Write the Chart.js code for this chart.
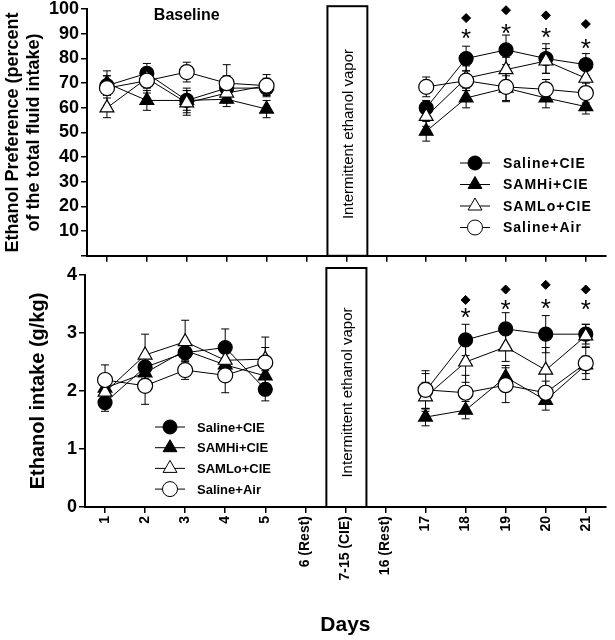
<!DOCTYPE html>
<html>
<head>
<meta charset="utf-8">
<script src="https://cdn.jsdelivr.net/npm/chart.js@4.4.1/dist/chart.umd.min.js"></script>
<style>
  html, body { margin: 0; padding: 0; background: #fff; }
  #wrap { position: relative; width: 615px; height: 640px; overflow: hidden; }
  #wrap canvas { position: absolute; left: 0; }
  #topChart { top: 0; }
  #bottomChart { top: 260px; }
</style>
</head>
<body>
<div id="wrap">
  <canvas id="topChart" width="615" height="265"></canvas>
  <canvas id="bottomChart" width="615" height="380"></canvas>
</div>
<script>
// shared x categories
const days = ['1', '2', '3', '4', '5', '6 (Rest)', '7-15 (CIE)', '16 (Rest)', '17', '18', '19', '20', '21'];
const seriesNames = ['Saline+CIE', 'SAMHi+CIE', 'SAMLo+CIE', 'Saline+Air'];

// top panel: ethanol preference (%)
const prefSalineCIE = [69, 74, 63, 68, 68, null, null, null, 60, 80, 83.5, 80, 77.5];
const prefSAMHi     = [70, 63, 63, 63.5, 59.5, null, null, null, 50.5, 64, 68, 64, 60.5];
const prefSAMLo     = [60, 72, 62, 66, 69, null, null, null, 56.5, 72, 75.5, 79, 72];
const prefSalineAir = [68, 71, 74.5, 70, 69, null, null, null, 68.5, 71, 68.5, 67.5, 66];
const prefErrSalineCIE = [4, 4, 5, 5, 3, null, null, null, 3, 5, 6, 6, 4.5];
const prefErrSAMHi     = [3, 4, 4, 3, 3.5, null, null, null, 4, 4, 5, 4, 3];
const prefErrSAMLo     = [4, 4, 5, 4, 3, null, null, null, 4, 5, 5, 5, 4];
const prefErrSalineAir = [7, 5, 4, 7.5, 4.5, null, null, null, 4, 4, 6, 4, 4];
const prefDiamonds = [null, null, null, null, null, null, null, null, null, 96.4, 99.6, 97.5, 94];
const prefStars    = [null, null, null, null, null, null, null, null, null, 90, 92, 90.5, 86];
const prefTicks = [10, 20, 30, 40, 50, 60, 70, 80, 90, 100];

// bottom panel: ethanol intake (g/kg)
const intSalineCIE = [1.8, 2.41, 2.66, 2.75, 2.03, null, null, null, 2.0, 2.88, 3.07, 2.98, 2.98];
const intSAMHi     = [2.05, 2.31, 2.7, 2.45, 2.26, null, null, null, 1.55, 1.67, 2.24, 1.84, 2.45];
const intSAMLo     = [1.98, 2.62, 2.85, 2.53, 2.55, null, null, null, 1.9, 2.5, 2.76, 2.36, 2.95];
const intSalineAir = [2.19, 2.09, 2.36, 2.27, 2.49, null, null, null, 2.02, 1.97, 2.1, 1.97, 2.48];
const intErrSalineCIE = [0.15, 0.2, 0.15, 0.32, 0.2, null, null, null, 0.3, 0.27, 0.28, 0.32, 0.17];
const intErrSAMHi     = [0.15, 0.2, 0.15, 0.2, 0.15, null, null, null, 0.15, 0.15, 0.2, 0.17, 0.15];
const intErrSAMLo     = [0.2, 0.36, 0.37, 0.2, 0.2, null, null, null, 0.25, 0.35, 0.25, 0.39, 0.2];
const intErrSalineAir = [0.26, 0.32, 0.16, 0.3, 0.44, null, null, null, 0.33, 0.3, 0.3, 0.2, 0.28];
const intDiamonds = [null, null, null, null, null, null, null, null, null, 3.57, 3.75, 3.83, 3.75];
const intStars    = [null, null, null, null, null, null, null, null, null, 3.34, 3.48, 3.5, 3.48];

const FONT = 'Arial, "Liberation Sans", sans-serif';
const markerStyles = [
    { pointStyle: 'circle', radius: 7, fill: '#000' },
    { pointStyle: 'triangle', radius: 8, fill: '#000' },
    { pointStyle: 'triangle', radius: 8, fill: '#fff' },
    { pointStyle: 'circle', radius: 7.5, fill: '#fff' }
];

function buildDatasets(values, errors, diamonds) {
    const sets = values.map((v, i) => ({
        label: seriesNames[i],
        data: v,
        errors: errors[i],
        borderColor: '#000',
        borderWidth: 1,
        backgroundColor: markerStyles[i].fill,
        pointStyle: markerStyles[i].pointStyle,
        pointRadius: markerStyles[i].radius,
        pointHoverRadius: markerStyles[i].radius,
        pointBackgroundColor: markerStyles[i].fill,
        pointBorderColor: '#000',
        pointBorderWidth: 1.2,
        spanGaps: false,
        // open markers sit on top
        order: 4 - i
    }));
    sets.push({
        label: 'diamond',
        data: diamonds,
        showLine: false,
        pointStyle: 'rectRot',
        pointRadius: 4.5,
        pointBackgroundColor: '#000',
        pointBorderColor: '#000',
        clip: false,
        order: 0
    });
    return sets;
}

// error bars under the markers
const errorBarsPlugin = {
    id: 'errorBars',
    beforeDatasetsDraw(chart) {
        const ctx = chart.ctx;
        const ys = chart.scales.y;
        ctx.save();
        ctx.strokeStyle = '#000';
        ctx.lineWidth = 1;
        chart.data.datasets.forEach((ds, di) => {
            if (!ds.errors) return;
            const meta = chart.getDatasetMeta(di);
            meta.data.forEach((pt, i) => {
                const v = ds.data[i], e = ds.errors[i];
                if (v == null || e == null) return;
                const x = pt.x;
                const y1 = ys.getPixelForValue(v + e);
                const y2 = ys.getPixelForValue(v - e);
                ctx.beginPath();
                ctx.moveTo(x, y1); ctx.lineTo(x, y2);
                ctx.moveTo(x - 4, y1); ctx.lineTo(x + 4, y1);
                ctx.moveTo(x - 4, y2); ctx.lineTo(x + 4, y2);
                ctx.stroke();
            });
        });
        ctx.restore();
    }
};

// vapor box, asterisks, legend, header text
const decorPlugin = {
    id: 'decor',
    afterDraw(chart, args, opts) {
        const ctx = chart.ctx;
        const xs = chart.scales.x, ys = chart.scales.y;
        const area = chart.chartArea;
        ctx.save();

        // intermittent ethanol vapor box
        const cx = xs.getPixelForValue(6);
        const half = (xs.getPixelForValue(7) - cx) / 2;
        const boxTop = area.top + opts.boxTopOffset;
        ctx.strokeStyle = '#000';
        ctx.lineWidth = 2;
        ctx.strokeRect(cx - half + 1, boxTop, 2 * half, area.bottom - boxTop);
        ctx.save();
        ctx.translate(cx + 2, (boxTop + area.bottom) / 2 + opts.textShift);
        ctx.rotate(-Math.PI / 2);
        ctx.fillStyle = '#000';
        ctx.font = '15px ' + FONT;
        ctx.textAlign = 'center';
        ctx.textBaseline = 'middle';
        ctx.fillText('Intermittent ethanol vapor', 0, 0);
        ctx.restore();

        // asterisks
        ctx.fillStyle = '#000';
        ctx.font = '26px ' + FONT;
        ctx.textAlign = 'center';
        ctx.textBaseline = 'middle';
        opts.stars.forEach((v, i) => {
            if (v == null) return;
            ctx.fillText('*', xs.getPixelForValue(i), ys.getPixelForValue(v) + 6);
        });

        // header
        if (opts.header) {
            ctx.font = 'bold 16px ' + FONT;
            ctx.fillText(opts.header, xs.getPixelForValue(2), 16);
        }

        // legend
        const lg = opts.legend;
        ctx.font = 'bold ' + lg.fontSize + 'px ' + FONT;
        ctx.letterSpacing = lg.spacing;
        ctx.textAlign = 'left';
        seriesNames.forEach((name, i) => {
            const y = lg.y + i * lg.rowGap;
            ctx.strokeStyle = '#000';
            ctx.lineWidth = 1;
            ctx.beginPath();
            ctx.moveTo(lg.x - 15, y); ctx.lineTo(lg.x + 15, y);
            ctx.stroke();
            ctx.fillStyle = markerStyles[i].fill;
            Chart.helpers.drawPoint(ctx, {
                pointStyle: markerStyles[i].pointStyle,
                radius: markerStyles[i].radius,
                rotation: 0,
                borderWidth: 1.2
            }, lg.x, y);
            ctx.fillStyle = '#000';
            ctx.fillText(name, lg.x + lg.textGap, y + 1);
        });
        ctx.restore();
    }
};

function axisGrid() {
    return { drawOnChartArea: false, drawTicks: true, tickLength: 6, color: '#000', lineWidth: 1.5 };
}

new Chart(document.getElementById('topChart'), {
    type: 'line',
    data: {
        labels: days,
        datasets: buildDatasets(
            [prefSalineCIE, prefSAMHi, prefSAMLo, prefSalineAir],
            [prefErrSalineCIE, prefErrSAMHi, prefErrSAMLo, prefErrSalineAir],
            prefDiamonds)
    },
    options: {
        responsive: false,
        animation: false,
        events: [],
        layout: { padding: { left: 0, right: 4, top: 8, bottom: 0 } },
        plugins: {
            legend: { display: false },
            tooltip: { enabled: false },
            decor: {
                boxTopOffset: -3,
                textShift: 3,
                stars: prefStars,
                header: 'Baseline',
                legend: { x: 475, y: 163, rowGap: 21.5, textGap: 28, fontSize: 14, spacing: '1px' }
            }
        },
        scales: {
            x: {
                offset: true,
                grid: axisGrid(),
                border: { color: '#000', width: 2 },
                ticks: { display: false },
                afterFit(scale) { scale.height = 8; }
            },
            y: {
                min: 0,
                max: 100,
                afterBuildTicks(scale) { scale.ticks = [0].concat(prefTicks).map(v => ({ value: v })); },
                ticks: {
                    color: '#000',
                    font: { family: FONT, size: 18, weight: 'bold' },
                    padding: 2,
                    autoSkip: false,
                    callback: v => (v === 0 ? '' : v)
                },
                grid: axisGrid(),
                border: { color: '#000', width: 2 },
                title: {
                    display: true,
                    text: ['Ethanol Preference (percent', 'of the total fluid intake)'],
                    color: '#000',
                    font: { family: FONT, size: 18, weight: 'bold', lineHeight: 1.2 },
                    padding: { top: 2, bottom: 0 }
                },
                afterFit(scale) {
                    scale.width = 87;
                    scale.paddingTop = 0;
                    scale.paddingBottom = 0;
                }
            }
        }
    },
    plugins: [errorBarsPlugin, decorPlugin]
});

new Chart(document.getElementById('bottomChart'), {
    type: 'line',
    data: {
        labels: days,
        datasets: buildDatasets(
            [intSalineCIE, intSAMHi, intSAMLo, intSalineAir],
            [intErrSalineCIE, intErrSAMHi, intErrSAMLo, intErrSalineAir],
            intDiamonds)
    },
    options: {
        responsive: false,
        animation: false,
        events: [],
        layout: { padding: { left: 0, right: 4, top: 15, bottom: 0 } },
        plugins: {
            legend: { display: false },
            tooltip: { enabled: false },
            decor: {
                boxTopOffset: -7,
                textShift: 5,
                stars: intStars,
                header: null,
                legend: { x: 170, y: 167, rowGap: 20.7, textGap: 27, fontSize: 13, spacing: '0px' }
            }
        },
        scales: {
            x: {
                offset: true,
                grid: axisGrid(),
                border: { color: '#000', width: 2 },
                ticks: {
                    color: '#000',
                    font: { family: FONT, size: 14, weight: 'bold' },
                    minRotation: 90,
                    maxRotation: 90,
                    autoSkip: false,
                    padding: 3
                },
                title: {
                    display: true,
                    text: 'Days',
                    color: '#000',
                    font: { family: FONT, size: 21, weight: 'bold' },
                    padding: { top: 0, bottom: 2 }
                },
                afterFit(scale) { scale.height = 133; }
            },
            y: {
                min: 0,
                max: 4,
                ticks: {
                    stepSize: 1,
                    color: '#000',
                    font: { family: FONT, size: 18, weight: 'bold' },
                    padding: 2
                },
                grid: axisGrid(),
                border: { color: '#000', width: 2 },
                title: {
                    display: true,
                    text: 'Ethanol intake (g/kg)',
                    color: '#000',
                    font: { family: FONT, size: 20, weight: 'bold' },
                    padding: { top: 26, bottom: 0 }
                },
                afterFit(scale) {
                    scale.width = 85;
                    scale.paddingTop = 0;
                    scale.paddingBottom = 0;
                }
            }
        }
    },
    plugins: [errorBarsPlugin, decorPlugin]
});
</script>
</body>
</html>
